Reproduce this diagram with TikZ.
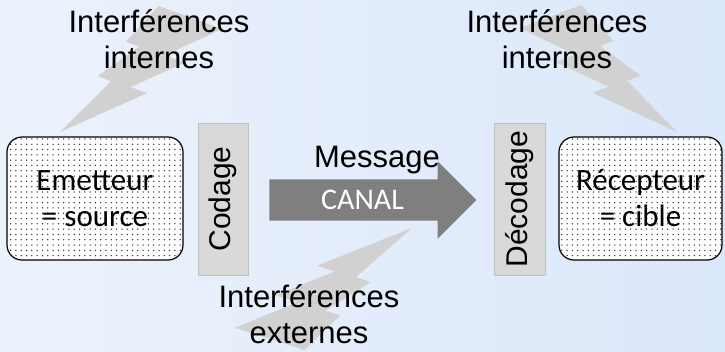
\documentclass[tikz,border=0pt]{standalone}
\usepackage{fontspec}
\setmainfont{Liberation Sans}
\newfontfamily\calibri{Carlito}
\usetikzlibrary{shapes.arrows,patterns.meta}

\begin{document}
\begin{tikzpicture}[x=1pt,y=-1pt]
    \definecolor{fondclair}{RGB}{236,242,252}
    \definecolor{fondbleu}{RGB}{219,231,250}
    \definecolor{eclairgris}{RGB}{209,209,209}
    \definecolor{canalgris}{RGB}{127,127,127}
    \definecolor{codegris}{RGB}{217,217,217}
    \tikzstyle{acteur} = [rectangle, rounded corners=15pt,
    minimum height=123pt,
    inner sep=0pt,
    align=center,
    draw=black, line width=1.2pt,
    preaction={fill=white},
    pattern={Dots[distance=5.3pt,radius=0.75pt]}, pattern color=black!80,
    font=\calibri\fontsize{31}{36}\selectfont]
    \tikzstyle{codeur} = [rectangle, rotate=90,
    minimum width=152pt, minimum height=50pt,
    inner sep=0pt,
    fill=codegris, draw=black!25,
    font=\fontsize{30}{36}\selectfont]
    \tikzstyle{canal} = [single arrow, fill=canalgris,
    single arrow head extend=18pt,
    minimum height=207pt,
    text height=19pt, text depth=0pt,
    inner ysep=11pt, inner xsep=0pt,
    text=white, font=\calibri\fontsize{30}{34}\selectfont]
    \tikzstyle{legende} = [align=center, inner sep=0pt,
    font=\fontsize{31}{36}\selectfont]
    \tikzstyle{eclair} = [fill=eclairgris]

    % fond
    \shade[left color=fondclair, right color=fondbleu] (0,0) rectangle (725,351);
    \useasboundingbox (0,0) rectangle (725,351);

    % eclairs : gauche, droite, bas
    \foreach \ox/\oy/\sx/\sy in {222/6/-162/126, 520/5/157/127, 235/350/177/-122}
    \fill[eclair, shift={(\ox,\oy)}, xscale=\sx, yscale=\sy]
        (0.392,0) -- (0,0.182) -- (0.350,0.390) -- (0.231,0.450) -- (0.565,0.644)
        -- (0.462,0.691) -- (1,1) -- (0.684,0.598) -- (0.767,0.556)
        -- (0.511,0.323) -- (0.594,0.283) -- cycle;

    \node (emetteur)[acteur, minimum width=176pt] at (95,198.5) {Emetteur\\= source};
    \node (recepteur)[acteur, minimum width=163pt] at (640.5,198.5) {Récepteur\\= cible};
    \node (codage)[codeur] at (223,199) {Codage};
    \node (decodage)[codeur, minimum height=51pt] at (519.5,199) {Décodage};
    \node (canal)[canal] at (362.5,200) {CANAL};

    \node (message)[legende, anchor=base] at (377,167) {Message};
    \node (intgauche)[legende] at (159,39) {Interférences\\internes};
    \node (intdroite)[legende] at (557,39) {Interférences\\internes};
    \node (intexterne)[legende] at (309,314) {Interférences\\externes};
\end{tikzpicture}
\end{document}
